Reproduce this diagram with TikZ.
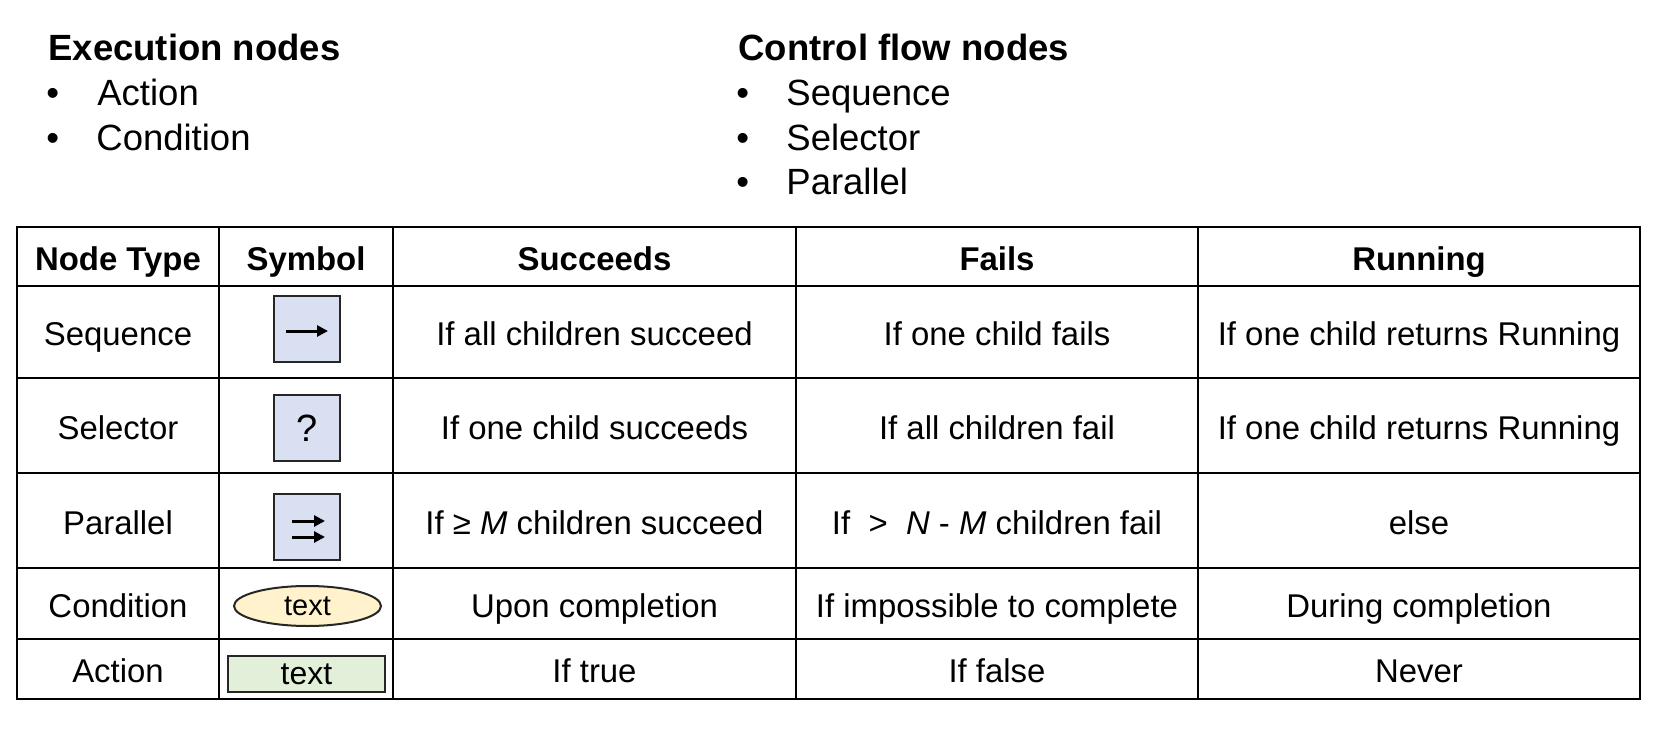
\documentclass[tikz,border=0pt]{standalone}
\usepackage{fontspec}
\setmainfont{Liberation Sans}
\usetikzlibrary{arrows.meta,shapes.geometric}
\definecolor{symbolblue}{rgb}{0.85, 0.88, 0.95}
\definecolor{condyellow}{rgb}{1.0, 0.95, 0.8}
\definecolor{actiongreen}{rgb}{0.89, 0.94, 0.85}
\definecolor{edgegray}{rgb}{0.15, 0.15, 0.15}

\begin{document}
\begin{tikzpicture}[x=0.5pt,y=-0.5pt,
        cell/.style={inner sep=0pt,yshift=-1pt,text height=11.8pt,text depth=0pt,font=\fontsize{16.45}{19}\selectfont},
        head/.style={cell,font=\fontsize{16.45}{19}\selectfont\bfseries},
        listhead/.style={anchor=base west,inner sep=0pt,font=\fontsize{18.25}{21}\selectfont\bfseries},
        listitem/.style={anchor=base west,inner sep=0pt,font=\fontsize{18.25}{21}\selectfont},
        ctrlbox/.style={draw=edgegray,line width=1pt,fill=symbolblue,minimum size=33pt,inner sep=0pt},
        condnode/.style={ellipse,draw=edgegray,line width=1pt,fill=condyellow,minimum width=73.5pt,minimum height=20pt,inner sep=0pt,font=\fontsize{14.5}{17}\selectfont},
        actnode/.style={draw=edgegray,line width=1pt,fill=actiongreen,minimum width=78.5pt,minimum height=18pt,inner sep=0pt,font=\fontsize{16}{19}\selectfont},
        symarrow/.style={line width=1.5pt,-{Triangle[length=5.5pt,width=5.5pt]}},
    ]
    \fill[white] (0,0) rectangle (1671,733);

    \node[listhead] (exectitle) at (48,61) {Execution nodes};
    \node[listitem] (execb1) at (46,105) {•};
    \node[listitem] (action) at (97,105) {Action};
    \node[listitem] (execb2) at (46,150) {•};
    \node[listitem] (condition) at (96,150) {Condition};

    \node[listhead] (ctrltitle) at (738,61) {Control flow nodes};
    \node[listitem] (ctrlb1) at (736,105) {•};
    \node[listitem] (sequence) at (786,105) {Sequence};
    \node[listitem] (ctrlb2) at (736,150) {•};
    \node[listitem] (selector) at (786,150) {Selector};
    \node[listitem] (ctrlb3) at (736,194) {•};
    \node[listitem] (parallel) at (786,194) {Parallel};

    \draw[line width=1pt] (17,227) rectangle (1640,699);
    \foreach \x in {219,393,796,1198}
        \draw[line width=1pt] (\x,227) -- (\x,699);
    \foreach \y in {286,378,473,568,639}
        \draw[line width=1pt] (17,\y) -- (1640,\y);

    \node[head] (htype) at (118,256.5) {Node Type};
    \node[head] (hsymbol) at (306,256.5) {Symbol};
    \node[head] (hsucc) at (594.5,256.5) {Succeeds};
    \node[head] (hfail) at (997,256.5) {Fails};
    \node[head] (hrun) at (1419,256.5) {Running};

    \node[cell] (tseq) at (118,332) {Sequence};
    \node[ctrlbox] (seq) at (307,329) {};
    \draw[symarrow] ([xshift=-10.5pt,yshift=-1pt]seq.center) -- ([xshift=10.5pt,yshift=-1pt]seq.center);
    \node[cell] (sseq) at (594.5,332) {If all children succeed};
    \node[cell] (fseq) at (997,332) {If one child fails};
    \node[cell] (rseq) at (1419,332) {If one child returns Running};

    \node[cell] (tsel) at (118,425.5) {Selector};
    \node[ctrlbox,font=\fontsize{19}{22}\selectfont] (sel) at (307,428) {?};
    \node[cell] (ssel) at (594.5,425.5) {If one child succeeds};
    \node[cell] (fsel) at (997,425.5) {If all children fail};
    \node[cell] (rsel) at (1419,425.5) {If one child returns Running};

    \node[cell] (tpar) at (118,520.5) {Parallel};
    \node[ctrlbox] (par) at (307,527) {};
    \draw[symarrow] ([xshift=-7.5pt,yshift=3pt]par.center) -- ([xshift=9pt,yshift=3pt]par.center);
    \draw[symarrow] ([xshift=-7.5pt,yshift=-5pt]par.center) -- ([xshift=9pt,yshift=-5pt]par.center);
    \node[cell] (spar) at (594.5,520.5) {If ≥ \textit{M} children succeed};
    \node[cell] (fpar) at (997,520.5) {If~ > ~\textit{N} - \textit{M} children fail};
    \node[cell] (rpar) at (1419,520.5) {else};

    \node[cell] (tcond) at (118,603.5) {Condition};
    \node[condnode] (cond) at (307.5,606) {text};
    \node[cell] (scond) at (594.5,603.5) {Upon completion};
    \node[cell] (fcond) at (997,603.5) {If impossible to complete};
    \node[cell] (rcond) at (1419,603.5) {During completion};

    \node[cell] (tact) at (118,669) {Action};
    \node[actnode] (act) at (306.5,674) {text};
    \node[cell] (sact) at (594.5,669) {If true};
    \node[cell] (fact) at (997,669) {If false};
    \node[cell] (ract) at (1419,669) {Never};
\end{tikzpicture}
\end{document}
